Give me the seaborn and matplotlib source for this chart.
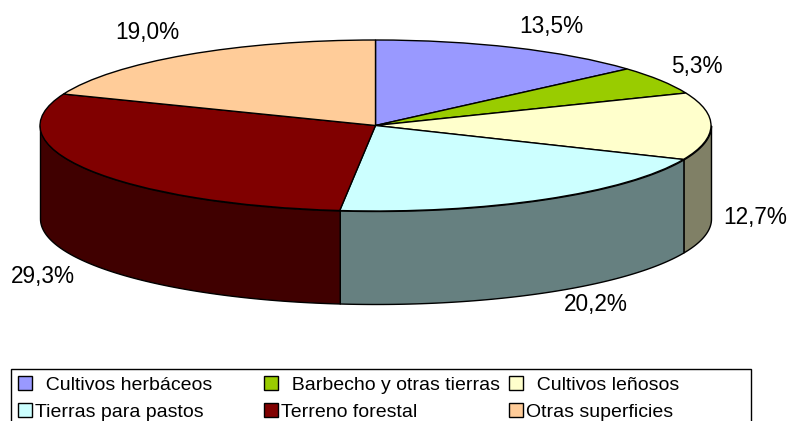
import numpy as np
import seaborn as sns
import matplotlib.pyplot as plt
from matplotlib.patches import Patch

categories = ['Cultivos herbáceos', 'Barbecho y otras tierras', 'Cultivos leñosos',
              'Tierras para pastos', 'Terreno forestal', 'Otras superficies']
values = [13.5, 5.3, 12.7, 20.2, 29.3, 19.0]
pct_labels = ['13,5%', '5,3%', '12,7%', '20,2%', '29,3%', '19,0%']
colors = ['#9999FF', '#99CC00', '#FFFFCC', '#CCFFFF', '#800000', '#FFCC99']

W, H = 789, 421
cx, cy, rx, ry, depth = 375.5, 125.5, 335.5, 85.5, 93

sns.set_theme(style='white')
plt.rcParams['font.family'] = ['Liberation Sans', 'DejaVu Sans']

fig = plt.figure(figsize=(W / 100, H / 100), dpi=100)
ax = fig.add_axes([0, 0, 1, 1])
palette = sns.color_palette(colors)

# top face is a normal pie, squashed by the axis limits
ax.pie(values, colors=palette, startangle=90, counterclock=False, radius=1,
       wedgeprops={'edgecolor': 'black', 'linewidth': 1, 'zorder': 3})
ax.set_aspect('auto')
ax.set_xlim(-cx / rx, (W - cx) / rx)
ax.set_ylim((cy - H) / ry, cy / ry)

# side wall, only the part of each slice facing the viewer
d = depth / ry
edges = 90 - np.cumsum([0] + values) * 3.6
for i in range(len(values)):
    hi, lo = edges[i], edges[i + 1]
    # front half of the ellipse is 180..360 deg (same as -180..0)
    lo2, hi2 = max(lo, -180), min(hi, 0)
    if hi2 > lo2:
        t = np.radians(np.linspace(lo2, hi2, 80))
        side = tuple(c * 0.5 for c in palette[i])
        ax.fill_between(np.cos(t), np.sin(t), np.sin(t) - d, color=side,
                        edgecolor='black', linewidth=1, zorder=2)

label_pos = [(551, 26), (697, 66), (755, 218), (596, 305), (43, 276), (147, 32)]
for lab, (px, py) in zip(pct_labels, label_pos):
    fig.text(px / W, 1 - py / H, lab, fontsize=16.3, color='black', ha='center', va='center')

# legend runs off the bottom of the picture like in the original
order = [0, 3, 1, 4, 2, 5]
before = {0: '  ', 1: '  ', 2: '  '}
after = {0: ' ' * 8, 3: ' ' * 8, 2: ' ' * 12, 5: ' ' * 12}
handles = [Patch(facecolor=colors[i], edgecolor='black', linewidth=1) for i in order]
labels = [before.get(i, '') + categories[i] + after.get(i, '') for i in order]
leg = ax.legend(handles, labels, ncol=3, loc='upper left',
                bbox_to_anchor=(11 / W, 1 - 369 / H), bbox_transform=fig.transFigure,
                fontsize=14, frameon=True, fancybox=False, edgecolor='black', framealpha=1,
                labelcolor='black',
                borderpad=0.38, borderaxespad=0, handlelength=0.72, handleheight=0.72,
                handletextpad=0.15, columnspacing=0.45, labelspacing=0.45)
leg.get_frame().set_linewidth(1)

fig.savefig('out.png', dpi=100)
